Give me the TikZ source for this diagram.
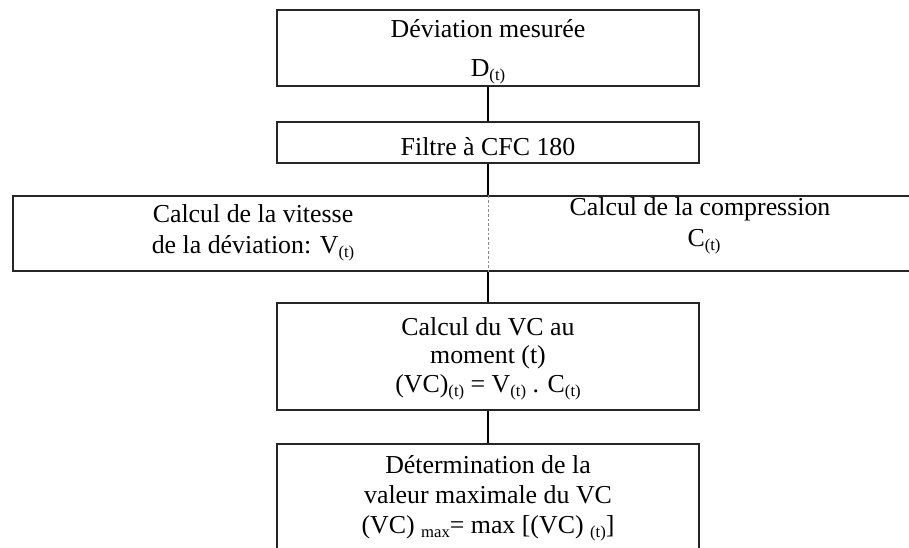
\documentclass[tikz,border=0pt]{standalone}
\usepackage{fontspec}
\setmainfont{Liberation Serif}
\newcommand\sbt[1]{\raisebox{-0.35ex}{\fontsize{12.5}{12.5}\selectfont #1}}
\begin{document}
\begin{tikzpicture}[x=0.75pt,y=-0.75pt,
  box/.style={draw=black!85,line width=1.1pt,fill=white,inner sep=0pt},
  txt/.style={anchor=base,inner sep=0pt,font=\fontsize{19.4}{21.5}\selectfont},
  link/.style={draw=black,line width=1.5pt},
  divider/.style={draw=black!45,line width=0.5pt,dash pattern=on 2pt off 1.5pt}]
\useasboundingbox (0,0) rectangle (909,547);
\clip (0,0) rectangle (909,547);
\node[box,minimum width=316.5pt,minimum height=57pt] (b1) at (488,48) {};
\node[box,minimum width=316.5pt,minimum height=30.75pt] (b2) at (488,142.5) {};
\node[box,minimum width=674.25pt,minimum height=56.25pt] (b3) at (462.5,233.5) {};
\node[box,minimum width=316.5pt,minimum height=80.25pt] (b4) at (488,356.5) {};
\node[box,minimum width=316.5pt,minimum height=83.25pt] (b5) at (488,499.5) {};
\draw[link] (b1.south) -- (b2.north);
\draw[link] (b2.south) -- (b2.south |- b3.north);
\draw[link] (b2.south |- b3.south) -- (b4.north);
\draw[link] (b4.south) -- (b5.north);
\draw[divider] (b2.south |- b3.north) -- (b2.south |- b3.south);
\node[txt] (t1a) at (488,37) {Déviation mesurée};
\node[txt] (t1b) at (488,76) {D\sbt{(t)}};
\node[txt] (t2) at (488,155) {Filtre à CFC 180};
\node[txt] (t3a) at (253,222) {Calcul de la vitesse};
\node[txt] (t3b) at (253,253) {de la déviation: V\sbt{(t)}};
\node[txt] (t3c) at (700,215) {Calcul de la compression};
\node[txt] (t3d) at (704,246) {C\sbt{(t)}};
\node[txt] (t4a) at (488,335) {Calcul du VC au};
\node[txt] (t4b) at (488,363) {moment (t)};
\node[txt] (t4c) at (488,392) {(VC)\sbt{(t)} = V\sbt{(t)} . C\sbt{(t)}};
\node[txt] (t5a) at (488,473) {Détermination de la};
\node[txt] (t5b) at (488,503) {valeur maximale du VC};
\node[txt] (t5c) at (488,533) {(VC) \sbt{max}= max [(VC) \sbt{(t)}]};
\end{tikzpicture}
\end{document}
